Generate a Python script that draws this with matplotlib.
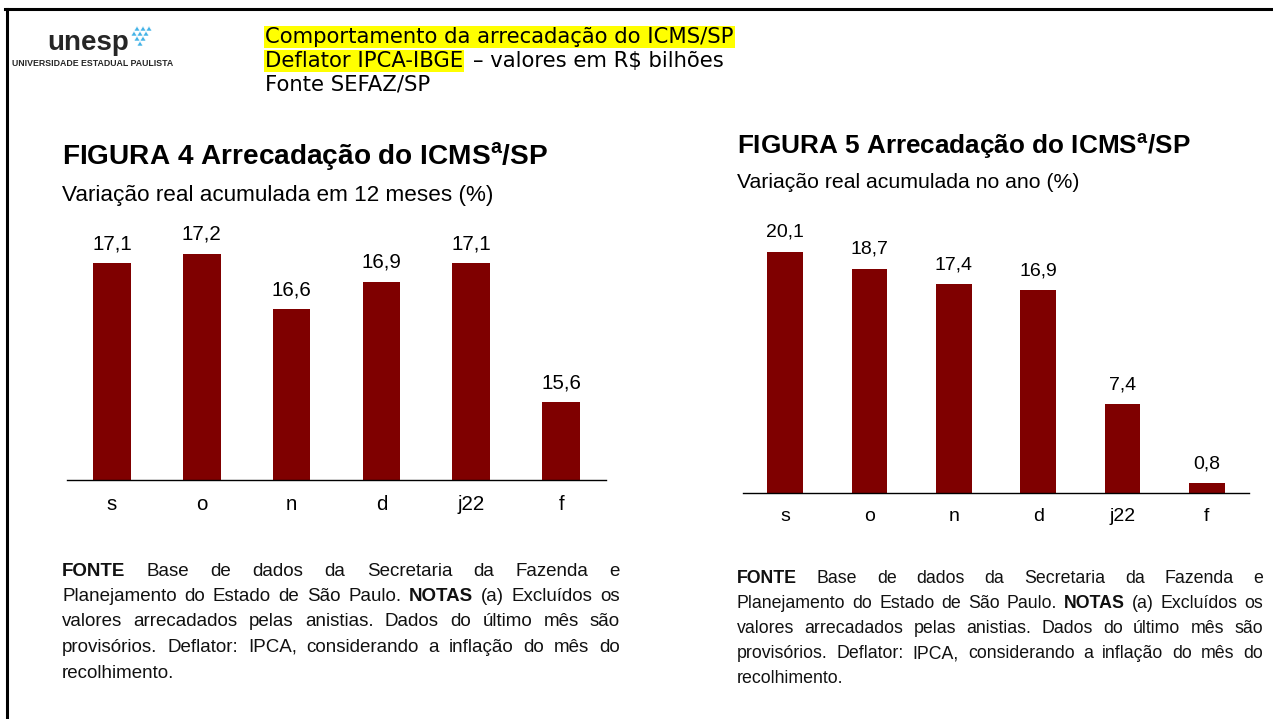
import matplotlib
matplotlib.use("Agg")
import matplotlib.pyplot as plt
from matplotlib.lines import Line2D
from matplotlib.patches import Polygon

# data
meses = ["s", "o", "n", "d", "j22", "f"]
var_12m = [17.1, 17.2, 16.6, 16.9, 17.1, 15.6]     # FIGURA 4
var_ano = [20.1, 18.7, 17.4, 16.9, 7.4, 0.8]       # FIGURA 5

W, H = 1273, 719
BAR = "#7f0000"
ARIAL = ["Liberation Sans", "DejaVu Sans"]

fig = plt.figure(figsize=(W / 100, H / 100), dpi=100)
fig.patch.set_facecolor("white")
renderer = fig.canvas.get_renderer()


def fx(x):
    return x / W


def fy(y):
    return 1 - y / H


def width_px(word, size, bold=False, family=ARIAL):
    t = fig.text(0, 0, word, family=family, fontsize=size,
                 fontweight="bold" if bold else "normal")
    w = t.get_window_extent(renderer).width
    t.remove()
    return w


# frame lines of the slide
fig.add_artist(Line2D([fx(5), 1], [fy(8.5), fy(8.5)], color="black", lw=2.2))
fig.add_artist(Line2D([fx(7), fx(7)], [fy(8.5), 0], color="black", lw=2.2))

# logo
fig.text(fx(47), fy(43), "unesp", family=ARIAL, fontweight="bold",
         fontsize=20, color="#262626", va="center", ha="left")
fig.text(fx(12), fy(63), "UNIVERSIDADE ESTADUAL PAULISTA", family=ARIAL,
         fontweight="bold", fontsize=6.35, color="#262626", va="center")
tri = [((131, 36), (137, 36), (134, 31)), ((137, 36), (143, 36), (140, 31)),
       ((134, 31), (140, 31), (137, 26)), ((140, 31), (146, 31), (143, 26)),
       ((143, 36), (149, 36), (146, 31)), ((134, 41), (140, 41), (137, 36)),
       ((140, 41), (146, 41), (143, 36)), ((137, 46), (143, 46), (140, 41)),
       ((146, 31), (152, 31), (149, 26))]
for t in tri:
    fig.add_artist(Polygon([(fx(a), fy(b)) for a, b in t], closed=True,
                           transform=fig.transFigure, facecolor="#45b3e7",
                           edgecolor="white", lw=0.4))

# header
HEAD = "DejaVu Sans"
hs = 15.2
hl = dict(boxstyle="square,pad=0.06", fc="#ffff00", ec="none")
fig.text(fx(265), fy(37), "Comportamento da arrecadação do ICMS/SP", family=HEAD,
         fontsize=hs, va="center", ha="left", bbox=hl)
fig.text(fx(265), fy(61), "Deflator IPCA-IBGE", family=HEAD, fontsize=hs,
         va="center", ha="left", bbox=hl)
dx = width_px("Deflator IPCA-IBGE ", hs, family=HEAD) + 3
fig.text(fx(265 + dx), fy(61), "– valores em R$ bilhões", family=HEAD,
         fontsize=hs, va="center", ha="left")
fig.text(fx(265), fy(85), "Fonte SEFAZ/SP", family=HEAD, fontsize=hs,
         va="center", ha="left")


def panel(pos, vals, ymin, ymax, lab_size, tick_size, pad, off):
    ax = fig.add_axes(pos)
    x = list(range(len(meses)))
    ax.bar(x, vals, width=0.42, color=BAR)
    ax.set_xlim(-0.5, len(meses) - 0.5)
    ax.set_ylim(ymin, ymax)
    for s in ["top", "right", "left"]:
        ax.spines[s].set_visible(False)
    ax.spines["bottom"].set_linewidth(1.0)
    ax.set_yticks([])
    ax.set_xticks(x)
    ax.set_xticklabels(meses, family=ARIAL, fontsize=tick_size)
    ax.tick_params(axis="x", length=0, pad=pad)
    ax.patch.set_alpha(0)
    for i, v in enumerate(vals):
        ax.annotate(f"{v:.1f}".replace(".", ","), xy=(i, v),
                    xytext=(0, off), textcoords="offset points",
                    ha="center", va="bottom", family=ARIAL,
                    fontsize=lab_size, annotation_clip=False)
    return ax


# FIGURA 4: 92.9 px per point, baseline at 14.76
panel([fx(67), fy(480), fx(606) - fx(67), (480 - 230) / H], var_12m,
      14.764, 14.764 + 250 / 92.9, 14.8, 14.8, 11, 7)
# FIGURA 5: 12 px per point, baseline at 0
panel([fx(743), fy(493), fx(1249) - fx(743), (493 - 230) / H], var_ano,
      0, 263 / 12.0, 14.0, 14.0, 11, 8)

# titles
fig.text(fx(62), fy(157), "FIGURA 4 Arrecadação do ICMS$^\\mathdefault{a}$/SP",
         family=ARIAL, fontweight="bold", fontsize=20.2, va="center")
fig.text(fx(62), fy(195), "Variação real acumulada em 12 meses (%)",
         family=ARIAL, fontsize=16.2, va="center")
fig.text(fx(737), fy(146), "FIGURA 5 Arrecadação do ICMS$^\\mathdefault{a}$/SP",
         family=ARIAL, fontweight="bold", fontsize=18.8, va="center")
fig.text(fx(737), fy(183), "Variação real acumulada no ano (%)",
         family=ARIAL, fontsize=15.3, va="center")

# justified notes
nota = [
    [("FONTE", 1), ("Base", 0), ("de", 0), ("dados", 0), ("da", 0),
     ("Secretaria", 0), ("da", 0), ("Fazenda", 0), ("e", 0)],
    [("Planejamento", 0), ("do", 0), ("Estado", 0), ("de", 0), ("São", 0),
     ("Paulo.", 0), ("NOTAS", 1), ("(a)", 0), ("Excluídos", 0), ("os", 0)],
    [("valores", 0), ("arrecadados", 0), ("pelas", 0), ("anistias.", 0),
     ("Dados", 0), ("do", 0), ("último", 0), ("mês", 0), ("são", 0)],
    [("provisórios.", 0), ("Deflator:", 0), ("IPCA,", 0), ("considerando", 0),
     ("a", 0), ("inflação", 0), ("do", 0), ("mês", 0), ("do", 0)],
    [("recolhimento.", 0)],
]


def paragraph(x0, x1, ys, size):
    space = width_px("a a", size) - width_px("aa", size)
    base = 0.36 * size * 100 / 72
    for k, (line, y) in enumerate(zip(nota, ys)):
        ws = [width_px(w, size, b) for w, b in line]
        if k == len(nota) - 1 or len(line) == 1:
            gap = space
        else:
            gap = ((x1 - x0) - sum(ws)) / (len(line) - 1)
        x = x0
        for (w, b), wd in zip(line, ws):
            fig.text(fx(x), fy(y + base), w, family=ARIAL, fontsize=size,
                     fontweight="bold" if b else "normal", va="baseline",
                     ha="left", color="#111111")
            x += wd + gap


paragraph(62, 620, [569, 594, 619, 645, 671], 13.5)
paragraph(737, 1263, [577, 602, 627, 652, 677], 12.8)

fig.savefig("out.png", dpi=100, facecolor="white")
